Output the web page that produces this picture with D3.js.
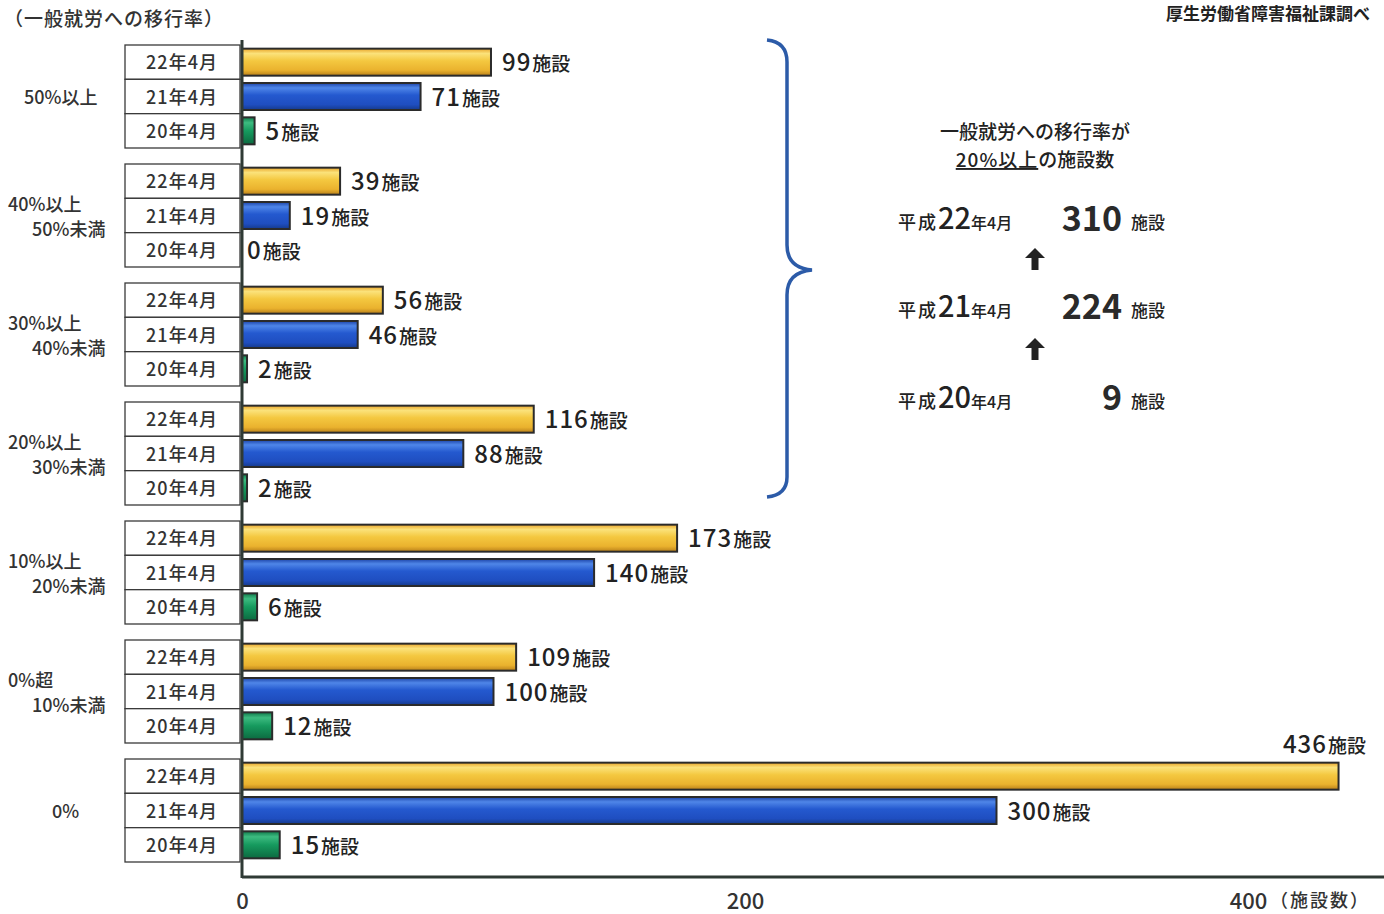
<!DOCTYPE html>
<html><head><meta charset="utf-8">
<script src="https://cdn.jsdelivr.net/npm/d3@7"></script>
<style>
html,body{margin:0;padding:0;background:#fff;}
svg{display:block;font-family:"Noto Sans CJK JP","Noto Sans",sans-serif;}
</style></head>
<body><svg id="chart" width="1384" height="914"></svg>
<script>
// ---- data ----
const categories = ["50%以上", "40%以上\n50%未満", "30%以上\n40%未満", "20%以上\n30%未満", "10%以上\n20%未満", "0%超\n10%未満", "0%"];
const periods = ["22年4月", "21年4月", "20年4月"];
const values22 = [99, 39, 56, 116, 173, 109, 436];
const values21 = [71, 19, 46, 88, 140, 100, 300];
const values20 = [5, 0, 2, 2, 6, 12, 15];
const xTicks = [0, 200, 400];
const summaryLabels = ["平成22年4月", "平成21年4月", "平成20年4月"];
const summaryValues = [310, 224, 9];

const svg = d3.select("#chart");
const defs = svg.append("defs");
function grad(id, stops){
  const g = defs.append("linearGradient").attr("id", id).attr("x1",0).attr("y1",0).attr("x2",0).attr("y2",1);
  stops.forEach(s => g.append("stop").attr("offset", s[0]).attr("stop-color", s[1]));
}
grad("gY", [[0,"#e9a52a"],[0.18,"#fbe27a"],[0.45,"#f4c840"],[0.8,"#eab22e"],[1,"#b9801a"]]);
grad("gB", [[0,"#1b43a8"],[0.18,"#4f86e8"],[0.45,"#2459cf"],[0.8,"#1f4ec0"],[1,"#153a8c"]]);
grad("gG", [[0,"#0f7a4a"],[0.2,"#3dbb80"],[0.5,"#169a5e"],[1,"#0c6a40"]]);
const fills = ["url(#gY)", "url(#gB)", "url(#gG)"];

const x = d3.scaleLinear().domain([0, 400]).range([242, 1248]);
const yG = d3.scaleBand().domain(categories).range([45, 862]).paddingInner(16/119).paddingOuter(0);
const yR = d3.scaleBand().domain(periods).range([0, yG.bandwidth()]).padding(0);
const barH = 27;
const txt = "#333";

// rows data
const rows = [];
categories.forEach((c, i) => {
  [values22[i], values21[i], values20[i]].forEach((v, j) => rows.push({c, p: periods[j], v, j, i}));
});

// table boxes
const tbl = svg.append("g");
categories.forEach(c => {
  periods.forEach(p => {
    tbl.append("rect").attr("x", 125).attr("y", yG(c) + yR(p)).attr("width", 115).attr("height", yR.bandwidth())
      .attr("fill", "#fff").attr("stroke", "#3a3a3a").attr("stroke-width", 1.3);
    tbl.append("text").attr("x", 182).attr("y", yG(c) + yR(p) + yR.bandwidth()/2 + 7)
      .attr("text-anchor", "middle").attr("font-size", 18).attr("font-weight", 500).attr("fill", txt).attr("letter-spacing", 1).text(p);
  });
  // group label
  const lines = c.split("\n");
  const cy = yG(c) + yG.bandwidth()/2;
  if (lines.length === 1) {
    svg.append("text").attr("x", lines[0] === "0%" ? 52 : 24).attr("y", cy + 7).attr("font-size", 18).attr("font-weight", 500).attr("fill", txt).text(lines[0]);
  } else {
    svg.append("text").attr("x", 8).attr("y", cy - 5).attr("font-size", 18).attr("font-weight", 500).attr("fill", txt).text(lines[0]);
    svg.append("text").attr("x", 32).attr("y", cy + 20).attr("font-size", 18).attr("font-weight", 500).attr("fill", txt).text(lines[1]);
  }
});

// bars
const bars = svg.append("g");
rows.forEach(r => {
  const yc = yG(r.c) + yR(r.p) + yR.bandwidth()/2;
  if (r.v > 0) {
    bars.append("rect").attr("x", x(0)).attr("y", yc - barH/2).attr("width", x(r.v) - x(0)).attr("height", barH)
      .attr("fill", fills[r.j]).attr("stroke", "#2b2b2b").attr("stroke-width", 2);
  }
  // value label
  const big = r.v === 436;
  const lx = big ? 1366 : x(r.v) + (r.v === 0 ? 5 : 11);
  const ly = big ? yc - barH/2 - 10 : yc + 9;
  const t = svg.append("text").attr("x", lx).attr("y", ly).attr("fill", "#222")
    .attr("text-anchor", big ? "end" : "start");
  t.append("tspan").attr("font-size", 24).attr("font-weight", 500).attr("letter-spacing", 1).text(r.v);
  t.append("tspan").attr("font-size", 19).attr("font-weight", 500).attr("dx", 1).text("施設");
});

// axes lines
svg.append("line").attr("x1", x(0)).attr("x2", x(0)).attr("y1", 40).attr("y2", 878).attr("stroke", "#2f3a35").attr("stroke-width", 3);
svg.append("line").attr("x1", x(0)).attr("x2", 1384).attr("y1", 877).attr("y2", 877).attr("stroke", "#2f3a35").attr("stroke-width", 3);

// x axis tick labels via d3 axis
const ax = svg.append("g").attr("transform", "translate(0,877)")
  .call(d3.axisBottom(x).tickValues(xTicks).tickSize(0).tickPadding(16).tickFormat(d3.format("d")));
ax.select(".domain").remove();
ax.selectAll("text").attr("font-size", 22).attr("font-weight", 500).attr("fill", txt).attr("font-family", "'Noto Sans CJK JP',sans-serif").attr("dy", "0.71em");
svg.append("text").attr("x", 1370).attr("y", 907).attr("text-anchor", "end").attr("font-size", 18).attr("font-weight", 500).attr("fill", txt).attr("letter-spacing", 2).text("（施設数）");

// titles
svg.append("text").attr("x", 4).attr("y", 26).attr("font-size", 19).attr("font-weight", 500).attr("fill", txt).attr("letter-spacing", 1).text("（一般就労への移行率）");
svg.append("text").attr("x", 1370).attr("y", 20).attr("text-anchor", "end").attr("font-size", 17).attr("font-weight", 700).attr("fill", "#222").text("厚生労働省障害福祉課調べ");

// brace
svg.append("path")
  .attr("d", "M767,40 Q787,42 787,62 L787,245 Q787,268 812,270 Q787,272 787,295 L787,477 Q787,495 767,497")
  .attr("fill", "none").attr("stroke", "#2c5ba8").attr("stroke-width", 3.5);

// summary
const cx = 1035;
svg.append("text").attr("x", cx).attr("y", 139).attr("text-anchor", "middle").attr("font-size", 19).attr("font-weight", 500).attr("fill", "#222").text("一般就労への移行率が");
const t2 = svg.append("text").attr("x", cx).attr("y", 167).attr("text-anchor", "middle").attr("font-size", 19).attr("font-weight", 500).attr("fill", "#222");
t2.append("tspan").attr("text-decoration", "underline").attr("letter-spacing", 1).text("20%以上");
t2.append("tspan").text("の施設数");

const sy = [229, 317, 408];
summaryLabels.forEach((lab, i) => {
  const m = lab.match(/^(平成)(\d+)(年4月)$/);
  const t = svg.append("text").attr("x", 898).attr("y", sy[i]).attr("fill", "#222").attr("font-weight", 500);
  t.append("tspan").attr("font-size", 18).attr("letter-spacing", 2).text(m[1]);
  t.append("tspan").attr("font-size", 29).text(m[2]);
  t.append("tspan").attr("font-size", 16).text(m[3]);
  svg.append("text").attr("x", 1122).attr("y", sy[i] + 2).attr("text-anchor", "end").attr("font-size", 34).attr("font-weight", 700).attr("fill", "#2a2a2a").text(summaryValues[i]);
  svg.append("text").attr("x", 1131).attr("y", sy[i]).attr("font-size", 17).attr("font-weight", 500).attr("fill", "#222").text("施設");
});
// arrows
[[270, 248], [360, 338]].forEach(a => {
  svg.append("path").attr("d", `M${cx-3.5},${a[0]} L${cx+3.5},${a[0]} L${cx+3.5},${a[1]+10} L${cx+10},${a[1]+10} L${cx},${a[1]} L${cx-10},${a[1]+10} L${cx-3.5},${a[1]+10} Z`).attr("fill", "#222");
});
</script></body></html>
